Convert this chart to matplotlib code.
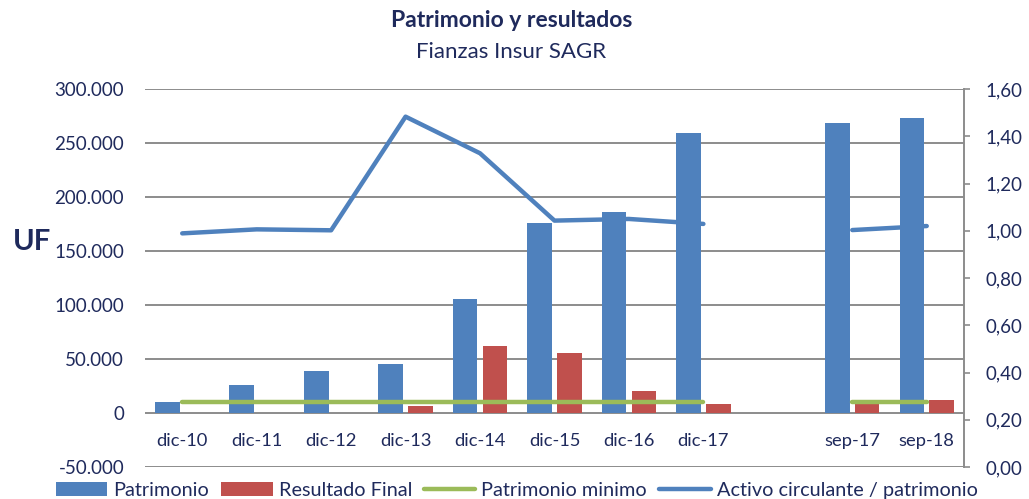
import matplotlib
matplotlib.use("Agg")
import matplotlib.pyplot as plt
import numpy as np
from matplotlib.patches import Patch
from matplotlib.lines import Line2D
from matplotlib.ticker import FuncFormatter, FixedLocator
import matplotlib.transforms as mtransforms

categories = ["dic-10", "dic-11", "dic-12", "dic-13", "dic-14", "dic-15", "dic-16", "dic-17", "", "sep-17", "sep-18"]
patrimonio = [9800, 25900, 39200, 45600, 105600, 175600, 185700, 259500, np.nan, 268500, 273100]
resultado = [0, 0, 0, 6800, 61700, 55200, 20400, 8000, np.nan, 8500, 12000]
patrimonio_minimo = [10000, 10000, 10000, 10000, 10000, 10000, 10000, 10000, np.nan, 10000, 10000]
activo_ratio = [0.989, 1.006, 1.002, 1.483, 1.328, 1.043, 1.050, 1.029, np.nan, 1.003, 1.020]

left_ticks = [-50000, 0, 50000, 100000, 150000, 200000, 250000, 300000]
right_ticks = [0.0, 0.2, 0.4, 0.6, 0.8, 1.0, 1.2, 1.4, 1.6]

navy = "#1F2A5C"
c_blue = "#4F81BD"
c_red = "#C0504D"
c_green = "#9BBB59"
grid_c = "#8C8C8C"
FONT = "Lato"

plt.rcParams['font.family'] = [FONT, 'DejaVu Sans']

fig = plt.figure(figsize=(10.29, 4.99), dpi=100)
ax = fig.add_axes([0.1409, 0.0641, 0.7959, 0.7575])
ax2 = ax.twinx()

x = np.arange(len(categories))
w = 0.33
off = 0.2
ax.bar(x - off, patrimonio, width=w, color=c_blue, zorder=3)
ax.bar(x + off, resultado, width=w, color=c_red, zorder=3)
ax.plot(x, patrimonio_minimo, color=c_green, lw=3.2, solid_capstyle="round", zorder=4)
ax2.plot(x, activo_ratio, color=c_blue, lw=3.2, solid_capstyle="round", zorder=4)

ax.set_xlim(-0.5, len(categories) - 0.5)
ax.set_ylim(-50000, 300000)
ax2.set_ylim(0, 1.6)
ax.yaxis.set_major_locator(FixedLocator(left_ticks))
ax2.yaxis.set_major_locator(FixedLocator(right_ticks))

def fmt_left(v, p):
    return f"{int(round(v)):,}".replace(",", ".")
def fmt_right(v, p):
    return f"{v:.2f}".replace(".", ",")
ax.yaxis.set_major_formatter(FuncFormatter(fmt_left))
ax2.yaxis.set_major_formatter(FuncFormatter(fmt_right))

for v in left_ticks:
    ax.axhline(v, color=grid_c, lw=1.4, zorder=1)

for s in ["top", "left", "bottom", "right"]:
    ax.spines[s].set_visible(False)
for s in ["top", "left", "bottom"]:
    ax2.spines[s].set_visible(False)
ax2.spines["right"].set_color(grid_c)
ax2.spines["right"].set_linewidth(1.4)

ax.tick_params(axis="y", length=0, pad=15, labelsize=13.5, labelcolor=navy)
ax.tick_params(axis="x", length=0, labelbottom=False)
ax2.tick_params(axis="y", length=4.5, width=1.2, color=grid_c, pad=11, labelsize=13.5, labelcolor=navy)

trans = mtransforms.blended_transform_factory(ax.transData, ax.transData)
for i, c in enumerate(categories):
    if c:
        ax.text(i, -25500, c, ha="center", va="center", fontsize=13.2, color=navy, transform=trans)

fig.text(0.0126, 0.516, "UF", fontsize=21, fontweight="bold", color=navy, ha="left", va="center")

fig.text(0.497, 0.958, "Patrimonio y resultados", fontsize=16.5, fontweight="bold", color=navy, ha="center", va="center")
fig.text(0.497, 0.895, "Fianzas Insur SAGR", fontsize=16, color=navy, ha="center", va="center")

handles = [
    Patch(facecolor=c_blue),
    Patch(facecolor=c_red),
    Line2D([0], [0], color=c_green, lw=3.2, solid_capstyle="round"),
    Line2D([0], [0], color=c_blue, lw=3.2, solid_capstyle="round"),
]
labels = ["Patrimonio", "Resultado Final", "Patrimonio minimo", "Activo circulante / patrimonio"]
leg = fig.legend(handles, labels, loc="center", bbox_to_anchor=(0.502, 0.018), ncol=4, frameon=False,
                 fontsize=14.3, handlelength=2.6, handleheight=0.7, handletextpad=0.3, columnspacing=0.6,
                 labelcolor=navy, borderpad=0)

fig.savefig("out.png", dpi=100)
